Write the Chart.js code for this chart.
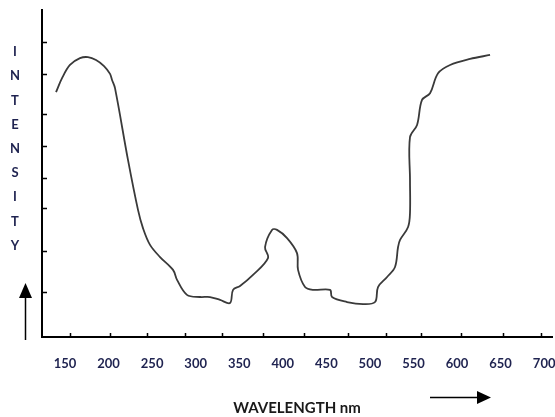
<!DOCTYPE html>
<html>
<head>
<meta charset="utf-8">
<title>Intensity vs wavelength</title>
<script src="https://cdn.jsdelivr.net/npm/chart.js@4/dist/chart.umd.min.js"></script>
<style>
    html, body { margin: 0; padding: 0; background: #fff; }
    #chartBox { width: 555px; height: 417px; }
</style>
</head>
<body>
<div id="chartBox">
    <canvas id="spectrumChart" width="555" height="417"></canvas>
</div>
<script>
// values
const xTickLabels = [150, 200, 250, 300, 350, 400, 450, 500, 550, 600, 650, 700];
const xTickMarks = [155.7, 201.7, 244.1, 287.7, 330.2, 377.3, 424.4, 474.9, 518.5, 558.7, 604.6, 652.8, 696.4];
const yTickMarks = [0, 1.15, 2.35, 3.2, 4.1, 5, 6.1, 7];
const yLetters = ["I", "N", "T", "E", "N", "S", "I", "T", "Y"];

const wavelength = [
    139.7, 146.6, 155.7, 167.2, 176.4, 185.6, 194.8, 201.7, 204, 207.4,
    222.3, 233.8, 239.5, 247.6, 259.1, 274, 278.6, 290, 305, 316.5,
    328, 339.4, 342.9, 350.9, 365.8, 383, 379.6, 387.6, 393.4, 404.9,
    416.3, 417.5, 425.5, 434.7, 454.2, 456.5, 473.7, 492.1, 505.9, 509.3,
    519.7, 528.8, 532.3, 534.6, 543.8, 546, 546, 546, 554.1, 559.8,
    569, 578.2, 592, 615, 637.9
];
const intensity = [
    5.60, 5.99, 6.36, 6.55, 6.58, 6.50, 6.33, 6.11, 5.94, 5.71,
    3.70, 2.30, 1.79, 1.32, 0.98, 0.62, 0.34, -0.08, -0.14, -0.14,
    -0.22, -0.31, 0.06, 0.17, 0.48, 0.95, 1.26, 1.74, 1.74, 1.51,
    1.09, 0.62, 0.14, 0.06, 0.06, -0.14, -0.28, -0.34, -0.28, 0.14,
    0.42, 0.70, 1.26, 1.46, 1.82, 2.21, 3.14, 4.34, 4.68, 5.38,
    5.57, 6.13, 6.36, 6.53, 6.64
];

const labelColor = "#1f2350";

// inward tick marks, the letters down the side and the two arrows
const decorations = {
    id: "decorations",
    afterDraw(chart) {
        const ctx = chart.ctx;
        const x = chart.scales.x;
        const y = chart.scales.y;
        const area = chart.chartArea;

        ctx.save();
        ctx.strokeStyle = "#000";
        ctx.lineWidth = 1.5;
        ctx.beginPath();
        xTickMarks.forEach(v => {
            const px = Math.round(x.getPixelForValue(v)) + 0.5;
            ctx.moveTo(px, area.bottom);
            ctx.lineTo(px, area.bottom - 4);
        });
        yTickMarks.forEach(v => {
            const py = Math.round(y.getPixelForValue(v)) + 0.5;
            ctx.moveTo(area.left, py);
            ctx.lineTo(area.left + 5, py);
        });
        ctx.stroke();

        ctx.fillStyle = labelColor;
        ctx.font = "bold 13px Lato";
        ctx.textAlign = "center";
        ctx.textBaseline = "middle";
        yLetters.forEach((ch, i) => {
            ctx.fillText(ch, 15, 52 + i * 24.2);
        });

        ctx.fillStyle = "#000";
        ctx.lineWidth = 1.5;
        ctx.beginPath();
        ctx.moveTo(25.5, 340);
        ctx.lineTo(25.5, 296);
        ctx.moveTo(430, 397.5);
        ctx.lineTo(480, 397.5);
        ctx.stroke();
        ctx.beginPath();
        ctx.moveTo(19, 298);
        ctx.lineTo(32, 298);
        ctx.lineTo(25.5, 283);
        ctx.closePath();
        ctx.fill();
        ctx.beginPath();
        ctx.moveTo(477, 391);
        ctx.lineTo(477, 404);
        ctx.lineTo(491, 397.5);
        ctx.closePath();
        ctx.fill();
        ctx.restore();
    }
};

new Chart(document.getElementById("spectrumChart").getContext("2d"), {
    type: "line",
    data: {
        datasets: [{
            data: wavelength.map((w, i) => ({ x: w, y: intensity[i] })),
            borderColor: "#3a3a3a",
            borderWidth: 1.8,
            pointRadius: 0,
            tension: 0.35,
            fill: false
        }]
    },
    options: {
        responsive: false,
        animation: false,
        layout: {
            padding: { top: 10, right: 3, left: 0, bottom: 0 }
        },
        plugins: {
            legend: { display: false },
            tooltip: { enabled: false }
        },
        scales: {
            x: {
                type: "linear",
                min: 123.6,
                max: 709,
                afterBuildTicks: scale => {
                    scale.ticks = xTickLabels.map(v => ({ value: v }));
                },
                afterFit: scale => {
                    scale.height = 80;
                    scale.paddingLeft = 0;
                    scale.paddingRight = 0;
                },
                grid: { display: false, drawTicks: false },
                border: { display: true, color: "#000", width: 2 },
                ticks: {
                    padding: 19,
                    color: labelColor,
                    maxRotation: 0,
                    autoSkip: false,
                    font: { family: "Lato", size: 13, weight: "bold" }
                },
                title: {
                    display: true,
                    text: "WAVELENGTH nm",
                    color: "#1a1a1a",
                    padding: 0,
                    font: { family: "Lato", size: 15, weight: "bold" }
                }
            },
            y: {
                type: "linear",
                min: -1.26,
                max: 7.9,
                afterBuildTicks: scale => {
                    scale.ticks = yTickMarks.map(v => ({ value: v }));
                },
                afterFit: scale => {
                    scale.width = 42;
                },
                grid: { display: false, drawTicks: false },
                border: { display: true, color: "#000", width: 2 },
                ticks: { display: false }
            }
        }
    },
    plugins: [decorations]
});
</script>
</body>
</html>
